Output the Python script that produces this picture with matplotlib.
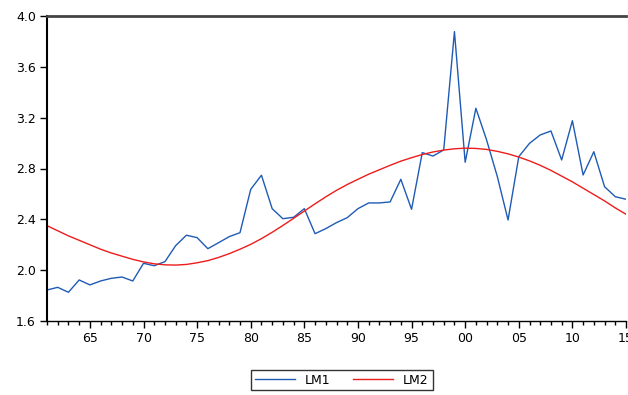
import numpy as np
import matplotlib.pyplot as plt
from matplotlib.ticker import MultipleLocator, FuncFormatter

# Years (annual data)
years = np.arange(1961, 2016)

# LM1 - actual series (blue)
lm1 = [1.844, 1.865, 1.826, 1.923, 1.884, 1.915, 1.936, 1.946, 1.915, 2.054,
       2.035, 2.067, 2.193, 2.275, 2.256, 2.169, 2.216, 2.264, 2.295, 2.636,
       2.747, 2.484, 2.405, 2.416, 2.484, 2.287, 2.327, 2.374, 2.413, 2.484,
       2.529, 2.529, 2.537, 2.715, 2.479, 2.925, 2.898, 2.946, 3.877, 2.849,
       3.274, 3.024, 2.736, 2.395, 2.893, 2.998, 3.064, 3.095, 2.867, 3.176,
       2.749, 2.932, 2.657, 2.578, 2.558]

# LM2 - fitted trend (red)
lm2 = [2.350, 2.310, 2.270, 2.235, 2.200, 2.165, 2.135, 2.110, 2.085, 2.065,
       2.050, 2.042, 2.040, 2.045, 2.058, 2.075, 2.100, 2.130, 2.165, 2.203,
       2.248, 2.298, 2.352, 2.408, 2.465, 2.522, 2.577, 2.628, 2.674, 2.715,
       2.755, 2.790, 2.825, 2.858, 2.885, 2.910, 2.930, 2.945, 2.955, 2.960,
       2.958, 2.950, 2.935, 2.915, 2.890, 2.860, 2.825, 2.785, 2.740, 2.695,
       2.645, 2.595, 2.545, 2.490, 2.440]

plt.rcParams['font.family'] = ['DejaVu Sans']

fig = plt.figure(figsize=(6.28, 3.95), dpi=100)
ax = fig.add_axes([47 / 628, 74 / 395, 579 / 628, 305 / 395])

ax.plot(years, lm1, color='#1f5bb5', linewidth=1.0, label='LM1')
ax.plot(years, lm2, color='#ee1c1c', linewidth=1.0, label='LM2')

ax.set_xlim(1961, 2015)
ax.set_ylim(1.6, 4.0)

ax.xaxis.set_major_locator(MultipleLocator(5))
ax.xaxis.set_minor_locator(MultipleLocator(1))
ax.xaxis.set_major_formatter(FuncFormatter(lambda v, p: '%02d' % (int(round(v)) % 100)))
ax.yaxis.set_major_locator(MultipleLocator(0.4))
ax.yaxis.set_major_formatter(FuncFormatter(lambda v, p: '%.1f' % v))

ax.tick_params(axis='both', which='major', direction='out', length=5, width=1,
               labelsize=9, pad=3, colors='black')
ax.tick_params(axis='x', which='minor', direction='out', length=3, width=1)

ax.spines['right'].set_visible(False)
ax.spines['top'].set_color('#444444')
ax.spines['top'].set_linewidth(2)
ax.spines['left'].set_linewidth(1.5)
ax.spines['bottom'].set_linewidth(1)

fig.legend(loc='center', bbox_to_anchor=(342 / 628, 1 - 380 / 395), ncol=2,
           frameon=True, fancybox=False, edgecolor='black', fontsize=9,
           handlelength=3.2, columnspacing=1.8, borderpad=0.3)

fig.savefig('out.png', dpi=100)
